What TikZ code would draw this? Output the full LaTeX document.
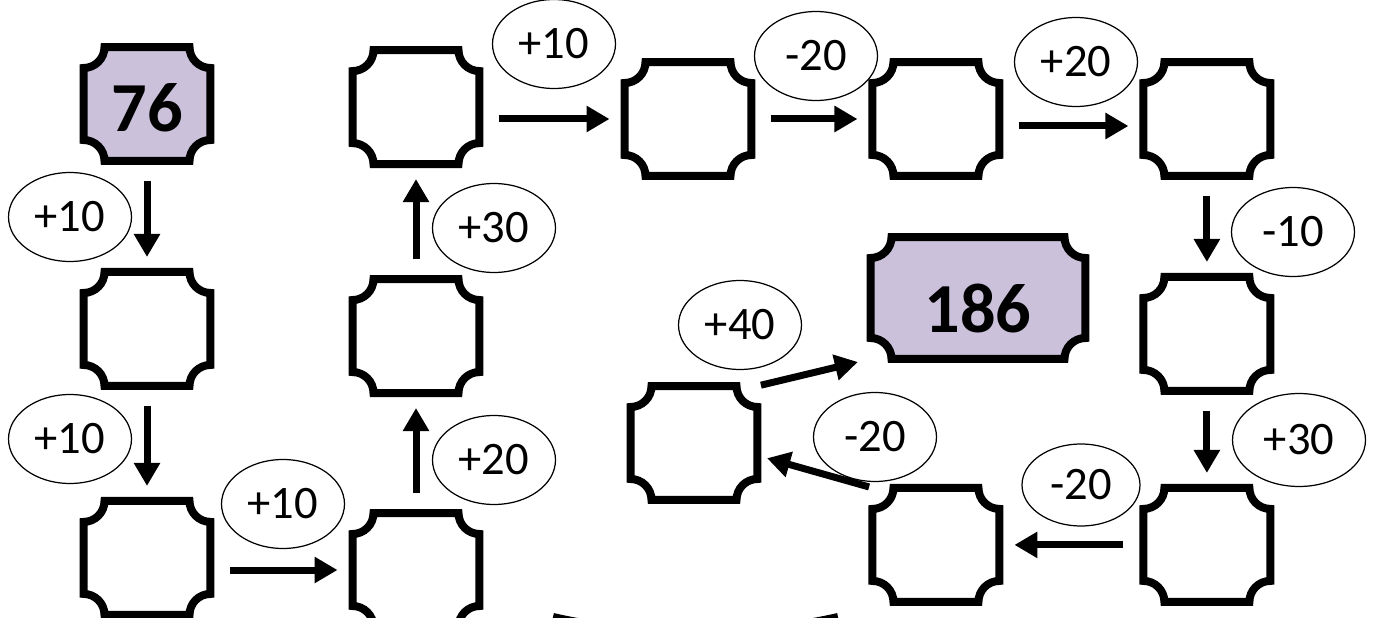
\documentclass[tikz,border=0pt]{standalone}
\usepackage{fontspec}
\setmainfont{Carlito}
\usetikzlibrary{arrows.meta,positioning,calc,shapes.geometric}

\definecolor{lavender}{HTML}{CCC1DA}
\newcommand\notchr{0.42cm}
% outline with cut-in corners round a named slot
\newcommand\plaque[2][white]{%
  \draw[rim, fill=#1] ($(#2.north west)+(0,-\notchr)$) arc[start angle=270, end angle=360, radius=\notchr]
    -- ($(#2.north east)+(-\notchr,0)$) arc[start angle=180, end angle=270, radius=\notchr]
    -- ($(#2.south east)+(0,\notchr)$) arc[start angle=90, end angle=180, radius=\notchr]
    -- ($(#2.south west)+(\notchr,0)$) arc[start angle=0, end angle=90, radius=\notchr]
    -- cycle;}

\begin{document}
\begin{tikzpicture}[
  x=0.02cm, y=-0.02cm,
  slot/.style={minimum width=2.54cm, minimum height=2.28cm, inner sep=0pt, outer sep=0pt},
  rim/.style={line width=0.16cm},
  bubble/.style={draw, ellipse, line width=0.7pt, fill=white, minimum width=2.46cm, minimum height=1.78cm, inner sep=0pt, font=\fontsize{26.5}{31}\selectfont},
  num/.style={font=\fontsize{40}{46}\selectfont\bfseries},
  arr/.style={-{Triangle[length=0.46cm, width=0.5cm]}, line width=0.14cm, shorten <=0.4cm, shorten >=0.3cm}
]
\useasboundingbox (0,0) rectangle (1383,618);
\clip (0,0) rectangle (1383,618);

% the path of slots
\node[slot] (A) at (147,104) {};
\node[slot, below=2.22cm of A] (B) {};
\node[slot, below=2.3cm of B] (C) {};
\node[slot] (D) at (416,570) {};
\node[slot, above=2.4cm of D] (E) {};
\node[slot, above=2.3cm of E] (F) {};
\node[slot] (G) at (688,119) {};
\node[slot, right=2.42cm of G] (H) {};
\node[slot, right=2.88cm of H] (I) {};
\node[slot, below=2.02cm of I] (J) {};
\node[slot, below=1.94cm of J] (K) {};
\node[slot, left=2.88cm of K] (L) {};
\node[slot] (M) at (694,443) {};
\node[slot, minimum width=4.3cm, minimum height=2.44cm] (N) at (978,298) {};

\plaque[lavender]{A}
\foreach \s in {B,C,D,E,F,G,H,I,J,K,L,M} {\plaque{\s}}
\plaque[lavender]{N}

\node[num] (v76) at ([yshift=-0.08cm]A.center) {76};
\node[num] (v186) at ([yshift=-0.2cm]N.center) {186};

% steps
\node[bubble] (s1) at (70,217) {+10};
\node[bubble] (s2) at (70,439) {+10};
\node[bubble] (s3) at (283,504) {+10};
\node[bubble] (s4) at (494,460) {+20};
\node[bubble] (s5) at (494,228) {+30};
\node[bubble] (s6) at (554,44) {+10};
\node[bubble] (s7) at (816,56) {-20};
\node[bubble] (s8) at (1076,62) {+20};
\node[bubble] (s9) at (1293,232) {-10};
\node[bubble, minimum width=2.66cm, minimum height=1.86cm] (s10) at (1299,440) {+30};
\node[bubble, minimum width=2.36cm, minimum height=1.64cm] (s11) at (1081,485) {-20};
\node[bubble] (s12) at (875,437) {-20};
\node[bubble] (s13) at (740,325) {+40};

\draw[arr] (A) -- (B);
\draw[arr] (B) -- (C);
\draw[arr] (C.east |- D.west) -- (D.west);
\draw[arr] (D) -- (E);
\draw[arr] (E) -- (F);
\draw[arr] (F.east |- G.west) -- (G.west);
\draw[arr] (G) -- (H);
\draw[arr] ([yshift=-0.14cm]H.east) -- ([yshift=-0.14cm]H.east -| I.west);
\draw[arr] (I) -- (J);
\draw[arr] (J) -- (K);
\draw[arr] (K) -- (L);
\draw[arr, shorten <=2pt, shorten >=0.2cm] (L.north west) -- ([yshift=-0.25cm]M.east);
\draw[arr, shorten <=2pt, shorten >=0.26cm] (M.north east) -- (N.south west);

% rim of a shape below the frame
\draw[rim] (553,617) .. controls (640,637) and (750,637) .. (838,617);

\end{tikzpicture}
\end{document}
